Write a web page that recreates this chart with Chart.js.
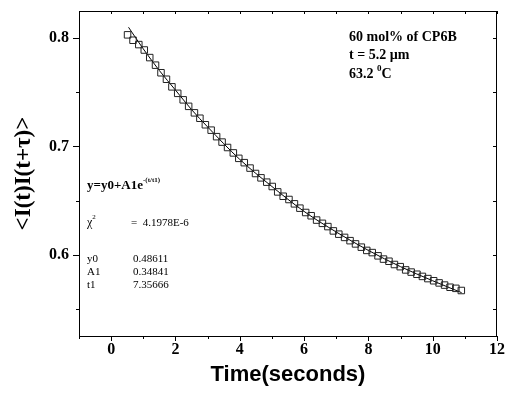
<!DOCTYPE html>
<html>
<head>
<meta charset="utf-8">
<script src="https://cdn.jsdelivr.net/npm/chart.js@4"></script>
<style>
  html, body { margin: 0; padding: 0; background: #fff; }
  #wrap { width: 508px; height: 394px; }
</style>
</head>
<body>
<div id="wrap"><canvas id="corrChart" width="508" height="394"></canvas></div>
<script>
// measured points (open squares)
const times = [0.51, 0.68, 0.86, 1.03, 1.20, 1.38, 1.55, 1.72, 1.89, 2.07, 2.24, 2.41, 2.59, 2.76, 2.93,
  3.11, 3.28, 3.45, 3.62, 3.80, 3.97, 4.14, 4.32, 4.49, 4.66, 4.84, 5.01, 5.18, 5.35, 5.53, 5.70,
  5.87, 6.05, 6.22, 6.39, 6.57, 6.74, 6.91, 7.08, 7.26, 7.43, 7.60, 7.78, 7.95, 8.12, 8.30, 8.47,
  8.64, 8.81, 8.99, 9.16, 9.33, 9.51, 9.68, 9.85, 10.03, 10.20, 10.37, 10.54, 10.72, 10.89];
const values = [0.803, 0.798, 0.794, 0.789, 0.782, 0.775, 0.768, 0.762, 0.755, 0.749, 0.743, 0.737, 0.731, 0.726, 0.720,
  0.715, 0.709, 0.704, 0.699, 0.694, 0.689, 0.685, 0.680, 0.675, 0.671, 0.667, 0.663, 0.658, 0.654, 0.651, 0.647,
  0.643, 0.639, 0.636, 0.632, 0.629, 0.626, 0.622, 0.619, 0.616, 0.613, 0.610, 0.607, 0.604, 0.602, 0.599, 0.596,
  0.594, 0.591, 0.589, 0.586, 0.584, 0.582, 0.580, 0.578, 0.576, 0.574, 0.572, 0.570, 0.569, 0.567];

// fitted curve
const fitTimes = [0.54, 1, 1.5, 2, 2.5, 3, 4, 5, 6, 7, 8, 9, 10, 10.9];
const fitValues = [0.810, 0.790, 0.770, 0.752, 0.734, 0.718, 0.688, 0.663, 0.640, 0.621, 0.604, 0.589, 0.576, 0.565];

const xTickLabels = [0, 2, 4, 6, 8, 10, 12];
const xMinorTicks = [-1, 1, 3, 5, 7, 9, 11];
const yTickLabels = [0.6, 0.7, 0.8];
const yMinorTicks = [0.55, 0.65, 0.75];

const near = (v, list) => list.some(t => Math.abs(t - v) < 1e-6);

// frame + tick marks like the original plot (out on bottom/left, in on top/right)
const framePlugin = {
  id: 'frame',
  afterDraw(chart) {
    const { ctx, chartArea: a, scales: { x, y } } = chart;
    ctx.save();
    ctx.strokeStyle = '#000';
    ctx.lineWidth = 1;
    ctx.strokeRect(a.left + 0.5, a.top + 0.5, a.right - a.left - 1, a.bottom - a.top);
    ctx.beginPath();
    xTickLabels.concat(xMinorTicks).forEach(v => {
      const px = Math.round(x.getPixelForValue(v)) + 0.5;
      const len = near(v, xTickLabels) ? 5 : 3;
      ctx.moveTo(px, a.bottom); ctx.lineTo(px, a.bottom + len);
      ctx.moveTo(px, a.top); ctx.lineTo(px, a.top + 3);
    });
    yTickLabels.concat(yMinorTicks).forEach(v => {
      const py = Math.round(y.getPixelForValue(v)) + 0.5;
      const len = near(v, yTickLabels) ? 6 : 3;
      ctx.moveTo(a.left, py); ctx.lineTo(a.left - len, py);
      ctx.moveTo(a.right, py); ctx.lineTo(a.right - 4, py);
    });
    ctx.stroke();
    ctx.restore();
  }
};

// text blocks: sample info and fit results
const notesPlugin = {
  id: 'notes',
  afterDraw(chart) {
    const ctx = chart.ctx;
    const serif = '"Liberation Serif", "Times New Roman", serif';
    const run = (x, y, parts) => {
      parts.forEach(p => {
        ctx.font = p.font;
        ctx.fillText(p.text, x, y + (p.dy || 0));
        x += ctx.measureText(p.text).width + (p.gap || 0);
      });
    };
    ctx.save();
    ctx.fillStyle = '#000';
    ctx.textBaseline = 'alphabetic';
    const b14 = 'bold 14px ' + serif;
    run(349, 41, [{ text: '60 mol% of CP6B', font: b14 }]);
    run(349, 59, [{ text: 't = 5.2 \u00b5m', font: b14 }]);
    run(349, 78, [{ text: '63.2 ', font: b14 }, { text: '0', font: 'bold 9px ' + serif, dy: -7 }, { text: 'C', font: b14 }]);

    const r11 = '11px ' + serif;
    run(87, 189, [{ text: 'y=y0+A1e', font: 'bold 13px ' + serif }, { text: '-(t/t1)', font: 'bold 7px ' + serif, dy: -7 }]);
    run(87, 226, [{ text: '\u03c7', font: '12px ' + serif }, { text: '2', font: '7px ' + serif, dy: -7 }]);
    run(131, 226, [{ text: '=  4.1978E-6', font: r11 }]);
    [['y0', '0.48611', 262], ['A1', '0.34841', 275], ['t1', '7.35666', 288]].forEach(r => {
      run(87, r[2], [{ text: r[0], font: r11 }]);
      run(133, r[2], [{ text: r[1], font: r11 }]);
    });
    ctx.restore();
  }
};

document.addEventListener('DOMContentLoaded', () => {
  const ctx = document.getElementById('corrChart').getContext('2d');
  new Chart(ctx, {
    type: 'scatter',
    data: {
      datasets: [
        {
          label: 'data',
          data: times.map((t, i) => ({ x: t, y: values[i] })),
          pointStyle: 'rect',
          pointRadius: 4.6,
          pointBorderWidth: 1,
          borderColor: '#222',
          backgroundColor: 'rgba(255,255,255,0)',
          showLine: false
        },
        {
          label: 'fit',
          data: fitTimes.map((t, i) => ({ x: t, y: fitValues[i] })),
          showLine: true,
          pointRadius: 0,
          borderColor: '#000',
          borderWidth: 1,
          cubicInterpolationMode: 'monotone'
        }
      ]
    },
    options: {
      responsive: false,
      animation: false,
      layout: { padding: { top: 11, right: 11, left: 0, bottom: 0 } },
      plugins: { legend: { display: false }, tooltip: { enabled: false } },
      scales: {
        x: {
          type: 'linear',
          min: -1, max: 12,
          grid: { display: false },
          border: { display: false },
          ticks: {
            autoSkip: false,
            maxRotation: 0,
            padding: -4,
            color: '#000',
            font: { family: 'Liberation Serif', weight: 'bold', size: 16 }
          },
          afterBuildTicks: s => { s.ticks = xTickLabels.map(v => ({ value: v })); },
          title: {
            display: true,
            text: 'Time(seconds)',
            color: '#000',
            font: { family: 'Liberation Sans', weight: 'bold', size: 22 },
            padding: { top: 0, bottom: 6 }
          },
          afterFit: s => { s.height = 58; s.paddingLeft = 0; s.paddingRight = 0; }
        },
        y: {
          type: 'linear',
          min: 0.525, max: 0.825,
          grid: { display: false },
          border: { display: false },
          ticks: {
            autoSkip: false,
            padding: 2,
            color: '#000',
            font: { family: 'Liberation Serif', weight: 'bold', size: 16 },
            callback: v => v.toFixed(1)
          },
          afterBuildTicks: s => { s.ticks = yTickLabels.map(v => ({ value: v })); },
          title: {
            display: true,
            text: '<I(t)I(t+\u03c4)>',
            color: '#000',
            font: { family: 'Liberation Serif', weight: 'bold', size: 23 },
            padding: { top: 10, bottom: 10 }
          },
          afterFit: s => { s.width = 79; s.paddingTop = 0; s.paddingBottom = 0; }
        }
      }
    },
    plugins: [framePlugin, notesPlugin]
  });
});
</script>
</body>
</html>
